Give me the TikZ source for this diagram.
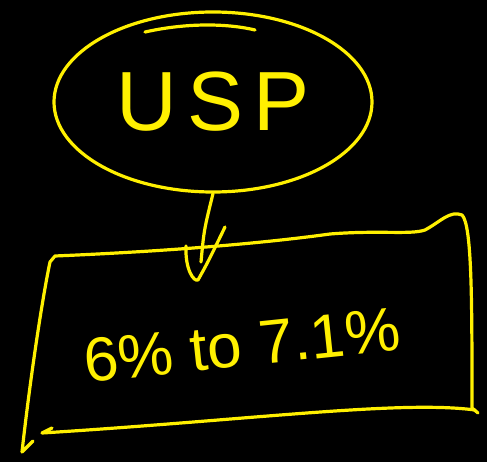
\documentclass[tikz,border=0pt]{standalone}
\usepackage{fontspec}
\setmainfont{Liberation Sans}
\usetikzlibrary{shapes.geometric}
\definecolor{hand}{RGB}{255,240,0}
\begin{document}
\begin{tikzpicture}[x=1pt,y=-1pt, line cap=round, line join=round,
  pen/.style={draw=hand, line width=3.2pt},
  bigtext/.style={text=hand, inner sep=0pt}]
\fill[black] (0,0) rectangle (487,462);
\useasboundingbox (0,0) rectangle (487,462);
% USP ellipse
\node[pen, bigtext, ellipse, minimum width=318pt, minimum height=180pt,
      font=\fontsize{84}{90}\selectfont] (usp) at (213,102) {U\hspace{10pt}S\hspace{10pt}P};
\draw[pen] (145,32) .. controls (190,22) and (230,24) .. (255,30);
% text of the box
\node[bigtext, rotate=6, font=\fontsize{62}{70}\selectfont] (box) at (242,345) {6\% to 7.1\%};
% box outline
\draw[pen] (33,441) -- (22,452) .. controls (30,380) and (42,300) .. (50,262) -- (55,256)
  .. controls (150,252) and (250,245) .. (330,234)
  .. controls (380,230) and (410,235) .. (425,230)
  .. controls (440,222) and (450,210) .. (462,215)
  .. controls (472,225) and (472,300) .. (472,408) -- (478,413);
\draw[pen] (475,410) .. controls (400,400) and (250,420) .. (42,433) -- (52,428);
% arrow
\coordinate (tip) at (201,262);
\draw[pen] (usp.south) .. controls (204,230) .. (tip);
\draw[pen] (186,246) .. controls (185,270) and (194,282) .. (198,280)
  .. controls (208,262) .. (225,227);
\end{tikzpicture}
\end{document}
